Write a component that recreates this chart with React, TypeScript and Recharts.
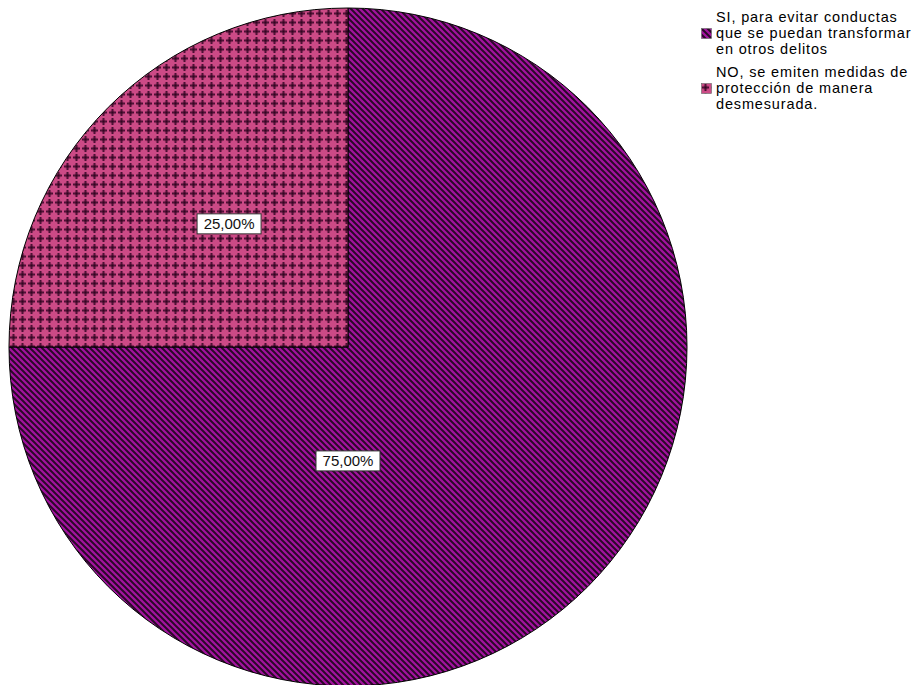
import React from "react";
import { PieChart, Pie, Cell, Legend } from "recharts";

const categories = [
  "SI, para evitar conductas que se puedan transformar en otros delitos",
  "NO, se emiten medidas de protección de manera desmesurada.",
];
const values = [75, 25];
const valueLabels = ["75,00%", "25,00%"];
const legendLines = [
  ["SI, para evitar conductas", "que se puedan transformar", "en otros delitos"],
  ["NO, se emiten medidas de", "protección de manera", "desmesurada."],
];
const fills = ["url(#stripePattern)", "url(#crossPattern)"];
const labelAngles = [-90, 134];
const labelRadiusFactor = [0.336, 0.505];

const data = categories.map((name, i) => ({ name, value: values[i], label: valueLabels[i] }));

const FONT = "'Liberation Sans', Arial, sans-serif";
const RAD = Math.PI / 180;

const renderLabel = (props: any) => {
  const { cx, cy, outerRadius, index } = props;
  const r = outerRadius * labelRadiusFactor[index];
  const a = labelAngles[index];
  const x = cx + r * Math.cos(-a * RAD);
  const y = cy + r * Math.sin(-a * RAD);
  const w = 64;
  const h = 20;
  return (
    <g>
      <rect x={x - w / 2} y={y - h / 2} width={w} height={h} fill="#ffffff" stroke="#333333" strokeWidth={1} />
      <text x={x} y={y + 5.5} textAnchor="middle" fontFamily={FONT} fontSize={15} fill="#111111">
        {data[index].label}
      </text>
    </g>
  );
};

const LegendContent = () => (
  <div style={{ fontFamily: FONT, fontSize: 14.5, lineHeight: "16px", letterSpacing: "0.85px", color: "#000" }}>
    {legendLines.map((lines, i) => (
      <div key={i} style={{ display: "flex", alignItems: "center", marginBottom: 7 }}>
        <svg width={11} height={11} style={{ marginRight: 4, flexShrink: 0 }}>
          <rect x={0.5} y={0.5} width={10} height={10} fill={fills[i]} stroke="#666" strokeWidth={0.6} />
        </svg>
        <div>
          {lines.map((l, j) => (
            <div key={j} style={{ whiteSpace: "nowrap" }}>{l}</div>
          ))}
        </div>
      </div>
    ))}
  </div>
);

export default function App() {
  return (
    <div style={{ position: "absolute", left: 0, top: 0, width: 920, height: 685, background: "#fff", overflow: "hidden" }}>
      <svg width={0} height={0} style={{ position: "absolute" }}>
        <defs>
          <pattern id="stripePattern" patternUnits="userSpaceOnUse" width={6} height={6}>
            <rect x={0} y={0} width={6} height={6} fill="#a3129f" />
            <path d="M-1,-1 L7,7 M-4,2 L1,7 M2,-4 L7,1" stroke="#2a0828" strokeWidth={2} />
          </pattern>
          <pattern id="crossPattern" patternUnits="userSpaceOnUse" width={9} height={9}>
            <rect x={0} y={0} width={9} height={9} fill="#cc4a86" />
            <rect x={3.5} y={1} width={2} height={7} fill="#4a0f33" />
            <rect x={1} y={3.5} width={7} height={2} fill="#4a0f33" />
            <rect x={2.5} y={2.5} width={4} height={4} fill="#6a1a46" opacity={0.5} />
            <rect x={3.5} y={3.5} width={2} height={2} fill="#300620" />
          </pattern>
        </defs>
      </svg>
      <PieChart width={920} height={685} margin={{ top: 0, right: 0, bottom: 0, left: 0 }}>
        <Pie
          data={data}
          dataKey="value"
          nameKey="name"
          cx={348}
          cy={347}
          outerRadius={339}
          startAngle={90}
          endAngle={-270}
          stroke="#000"
          strokeWidth={1}
          label={renderLabel}
          labelLine={false}
          isAnimationActive={false}
        >
          {data.map((d, i) => (
            <Cell key={d.name} fill={fills[i]} />
          ))}
        </Pie>
        <Legend
          content={<LegendContent />}
          wrapperStyle={{ position: "absolute", left: 701, top: 9, width: 219 }}
        />
      </PieChart>
    </div>
  );
}
